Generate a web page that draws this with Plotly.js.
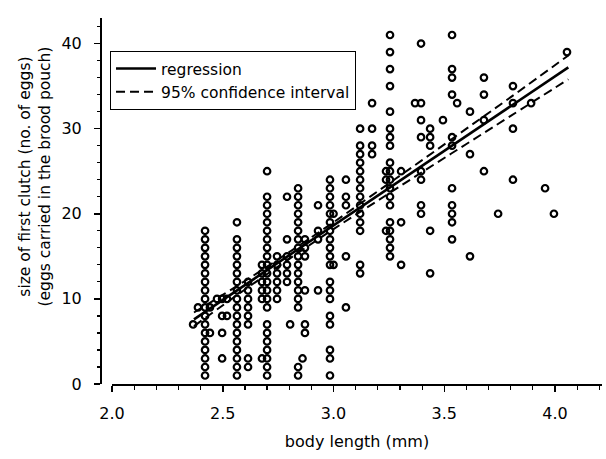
<!DOCTYPE html>
<html>
<head>
<meta charset="utf-8">
<script src="https://cdn.plot.ly/plotly-3.0.1.min.js"></script>
<style>
  html, body { margin: 0; padding: 0; background: #ffffff; }
  #chart { width: 606px; height: 459px; }
</style>
</head>
<body>
<div id="chart"></div>
<script>
// body length (mm) of each measurement column
const lengths = [2.366, 2.388, 2.420, 2.442, 2.474, 2.497, 2.519, 2.564, 2.614, 2.677,
                 2.700, 2.745, 2.790, 2.804, 2.840, 2.860, 2.871, 2.930, 2.984, 3.000,
                 3.056, 3.120, 3.174, 3.237, 3.255, 3.305, 3.368, 3.395, 3.436, 3.494,
                 3.535, 3.558, 3.616, 3.679, 3.743, 3.810, 3.892, 3.955, 3.995, 4.054];
// size of first clutch (no. of eggs) observed at each length
const clutches = [
  [7],
  [9],
  [1,2,3,4,5,6,7,8,9,10,11,12,13,14,15,16,17,18],
  [6,9],
  [10],
  [3,6,8,10],
  [8,10],
  [1,2,3,4,5,6,7,8,9,10,11,12,13,14,15,16,17,19],
  [2,3,7,8,9,10,11,12],
  [3,10,11,12,13,14],
  [1,2,3,4,5,6,7,9,10,11,12,13,14,15,16,17,18,19,20,21,22,25],
  [10,11,12,13,14,15],
  [12,13,14,15,17,22],
  [7],
  [1,2,9,10,11,12,13,14,15,16,17,18,19,20,21,22,23],
  [3],
  [6,7,11,15,16,17],
  [11,17,18,21],
  [1,3,4,7,8,10,11,12,14,15,16,17,18,19,20,21,22,23,24],
  [14,20],
  [9,15,21,22,24],
  [13,14,18,19,20,21,22,23,24,25,26,27,28,30],
  [27,28,30,33],
  [18,24,25],
  [15,16,17,18,19,21,22,23,24,25,26,28,29,30,32,35,37,39,41],
  [14,19,25],
  [33],
  [20,21,24,25,29,31,33,40],
  [13,18,28,29,30],
  [31],
  [17,19,20,21,23,28,29,34,36,37,41],
  [33],
  [15,27,32],
  [25,31,34,36],
  [20],
  [24,30,33,35],
  [33],
  [23],
  [20],
  [39]
];
// regression line end points
const regX = [2.37, 4.06];
const regY = [7.6, 37.2];
// 95% confidence band
const ciX     = [2.37, 2.6, 2.8, 3.0, 3.2, 3.4, 3.6, 3.8, 4.06];
const ciUpper = [8.4, 12.1, 15.5, 19.0, 22.65, 26.3, 30.0, 33.7, 38.6];
const ciLower = [6.8, 11.1, 14.7, 18.2, 21.55, 24.9, 28.2, 31.5, 35.8];

const xTicks = [2.0, 2.5, 3.0, 3.5, 4.0];
const yTicks = [0, 10, 20, 30, 40];

const px = [], py = [];
lengths.forEach((L, i) => clutches[i].forEach(v => { px.push(L); py.push(v); }));

const FONT = 'DejaVu Sans, Arial, sans-serif';

const traces = [
  { x: px, y: py, type: 'scatter', mode: 'markers', showlegend: false, hoverinfo: 'x+y',
    marker: { symbol: 'circle-open', size: 6.5, color: '#000', line: { width: 2.2, color: '#000' } } },
  { x: regX, y: regY, type: 'scatter', mode: 'lines', name: 'regression',
    line: { color: '#000', width: 2.6 } },
  { x: ciX, y: ciUpper, type: 'scatter', mode: 'lines', name: '95% confidence interval',
    line: { color: '#000', width: 2, dash: '9px,5px', shape: 'spline' } },
  { x: ciX, y: ciLower, type: 'scatter', mode: 'lines', name: '95% confidence interval', showlegend: false,
    line: { color: '#000', width: 2, dash: '9px,5px', shape: 'spline' } }
];

const layout = {
  width: 606, height: 459,
  margin: { l: 101, r: 4, t: 18, b: 75 },
  paper_bgcolor: '#fff', plot_bgcolor: '#fff',
  font: { family: FONT, color: '#000', size: 16 },
  showlegend: true,
  legend: {
    x: 0.018, y: 0.91, xanchor: 'left', yanchor: 'top',
    bgcolor: '#fff', bordercolor: '#000', borderwidth: 1,
    font: { family: FONT, size: 15.5, color: '#000' },
    itemwidth: 40, tracegroupgap: 0
  },
  xaxis: {
    domain: [0.022, 1], range: [2.0, 4.212],
    showline: true, linecolor: '#000', linewidth: 2,
    showgrid: false, zeroline: false,
    tickmode: 'array', tickvals: xTicks, ticktext: xTicks.map(v => v.toFixed(1)),
    ticks: 'outside', ticklen: 6, tickwidth: 1.5, tickcolor: '#000',
    ticklabelstandoff: 8,
    minor: { dtick: 0.1, tick0: 2.0, ticks: 'outside', ticklen: 3.5, tickwidth: 1.2, tickcolor: '#000', showgrid: false },
    tickfont: { family: FONT, size: 16, color: '#000' },
    title: { text: 'body length (mm)', font: { family: FONT, size: 16, color: '#000' }, standoff: 14 }
  },
  yaxis: {
    anchor: 'free', position: 0, range: [0, 43],
    showline: true, linecolor: '#000', linewidth: 2,
    showgrid: false, zeroline: false,
    tickmode: 'array', tickvals: yTicks, ticktext: yTicks.map(String),
    ticks: 'outside', ticklen: 6, tickwidth: 1.5, tickcolor: '#000',
    ticklabelstandoff: 9,
    minor: { dtick: 2, tick0: 0, ticks: 'outside', ticklen: 3.5, tickwidth: 1.2, tickcolor: '#000', showgrid: false },
    tickfont: { family: FONT, size: 16, color: '#000' }
  },
  annotations: [{
    text: 'size of first clutch (no. of eggs)<br>(eggs carried in the brood pouch)',
    xref: 'paper', yref: 'paper', x: -0.1327, y: 0.5656,
    xanchor: 'center', yanchor: 'middle', textangle: -90, showarrow: false,
    font: { family: FONT, size: 15.5, color: '#000' }
  }]
};

Plotly.newPlot('chart', traces, layout, { displayModeBar: false, staticPlot: true });
</script>
</body>
</html>
